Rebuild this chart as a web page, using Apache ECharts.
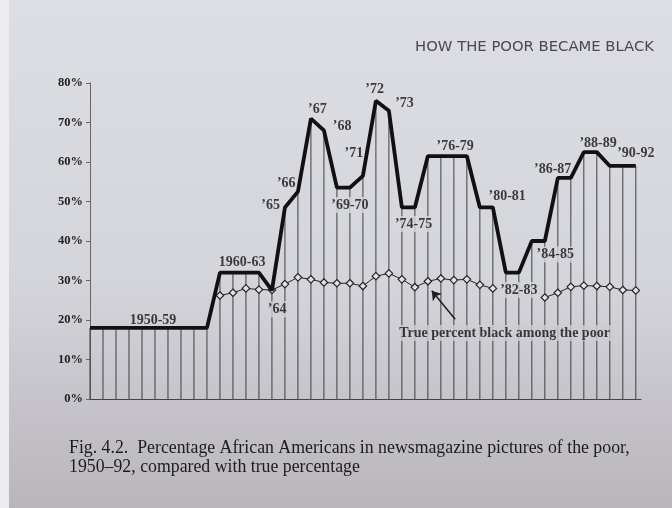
<!DOCTYPE html>
<html>
<head>
<meta charset="utf-8">
<script src="https://cdn.jsdelivr.net/npm/echarts@6/dist/echarts.min.js"></script>
<style>
  html, body { margin: 0; padding: 0; }
  #chart { width: 672px; height: 508px; }
</style>
</head>
<body>
<div id="chart"></div>
<script>
  // years on the x axis
  const years = [1950, 1951, 1952, 1953, 1954, 1955, 1956, 1957, 1958, 1959,
    1960, 1961, 1962, 1963, 1964, 1965, 1966, 1967, 1968, 1969, 1970,
    1971, 1972, 1973, 1974, 1975, 1976, 1977, 1978, 1979, 1980, 1981,
    1982, 1983, 1984, 1985, 1986, 1987, 1988, 1989, 1990, 1991, 1992]

  // % African Americans in newsmagazine pictures of the poor
  const magazine = [18, 18, 18, 18, 18, 18, 18, 18, 18, 18,
    32, 32, 32, 32, 27.5, 48.5, 52.5, 71, 68, 53.5, 53.5,
    56.5, 75.5, 73, 48.5, 48.5, 61.5, 61.5, 61.5, 61.5, 48.5, 48.5,
    32, 32, 40, 40, 56, 56, 62.5, 62.5, 59, 59, 59]

  // true % black among the poor
  const truePct = [null, null, null, null, null, null, null, null, null, null,
    26.2, 26.9, 28.0, 27.7, 27.6, 29.1, 30.8, 30.3, 29.5, 29.3, 29.3,
    28.6, 31.1, 31.8, 30.3, 28.3, 29.8, 30.5, 30.1, 30.3, 28.9, 28.0,
    null, null, null, 25.7, 26.9, 28.4, 28.7, 28.6, 28.4, 27.6, 27.5]

  // period labels and where they sit (year, percent)
  const labelText = ['1950-59', '1960-63', '\u201964', '\u201965', '\u201966', '\u201967',
    '\u201968', '\u201971', '\u201969-70', '\u201972', '\u201973', '\u201974-75', '\u201976-79',
    '\u201980-81', '\u201982-83', '\u201984-85', '\u201986-87', '\u201988-89', '\u201990-92',
    'True percent black among the poor']
  const labelYear = [1954.85, 1961.7, 1964.4, 1963.9, 1965.1, 1967.5,
    1969.4, 1970.3, 1970.0, 1971.9, 1974.2, 1974.9, 1978.1,
    1982.1, 1983.0, 1985.8, 1985.6, 1989.1, 1992.0, 1981.9]
  const labelPct = [20.0, 34.5, 22.7, 49.1, 54.6, 73.3,
    69.1, 62.2, 49.1, 78.5, 74.9, 44.3, 63.9,
    51.4, 27.6, 36.6, 58.1, 64.7, 62.2, 16.7]

  // arrow from the "True percent" note to the line
  const arrowFrom = [1978.1, 20.2]
  const arrowTo = [1976.3, 27.4]

  const serif = '"Liberation Serif", "DejaVu Serif", serif'

  // page tone of the photo, top to bottom
  const paper = [
    { offset: 0, color: [221, 222, 227] },
    { offset: 0.55, color: [212, 213, 219] },
    { offset: 1, color: [185, 181, 187] }
  ]
  function paperAt(t) {
    for (let i = 1; i < paper.length; i++) {
      if (t <= paper[i].offset) {
        const a = paper[i - 1], b = paper[i]
        const f = (t - a.offset) / (b.offset - a.offset)
        const c = a.color.map((v, k) => Math.round(v + (b.color[k] - v) * f))
        return 'rgb(' + c.join(',') + ')'
      }
    }
    return 'rgb(' + paper[paper.length - 1].color.join(',') + ')'
  }

  const chart = echarts.init(document.getElementById('chart'))
  const H = 508

  const option = {
    animation: false,
    backgroundColor: {
      type: 'linear', x: 0, y: 0, x2: 0, y2: 1,
      colorStops: paper.map(s => ({ offset: s.offset, color: 'rgb(' + s.color.join(',') + ')' }))
    },
    graphic: [
      { type: 'rect', left: 0, top: 0, shape: { width: 9, height: H }, style: { fill: '#ececef' } }
    ],
    title: [
      {
        text: 'HOW THE POOR BECAME BLACK',
        right: 13,
        top: 35,
        textStyle: { fontFamily: '"DejaVu Sans", sans-serif', fontSize: 14.8, fontWeight: 'normal', color: '#48484e' }
      },
      {
        text: 'Fig. 4.2.  Percentage African Americans in newsmagazine pictures of the poor,\n1950\u201392, compared with true percentage',
        left: 64,
        top: 434,
        textStyle: { fontFamily: serif, fontSize: 17.8, lineHeight: 19, fontWeight: 'normal', color: '#1c1c1c' }
      }
    ],
    grid: { left: 90, right: 31, top: 83, bottom: 109 },
    xAxis: {
      type: 'value',
      min: 1950,
      max: 1992.4,
      axisLine: { show: true, lineStyle: { color: '#444', width: 1 } },
      axisTick: { show: false },
      axisLabel: { show: false },
      splitLine: { show: false }
    },
    yAxis: {
      type: 'value',
      min: 0,
      max: 80,
      interval: 10,
      axisLine: { show: true, lineStyle: { color: '#666', width: 1 } },
      axisTick: { show: true, length: 4, lineStyle: { color: '#666' } },
      axisLabel: {
        formatter: '{value}%',
        fontFamily: serif,
        fontWeight: 'bold',
        fontSize: 12.5,
        color: '#222',
        margin: 7
      },
      splitLine: { show: false }
    },
    series: [
      {
        // thin drop lines under each year
        type: 'bar',
        silent: true,
        z: 1,
        barWidth: 1,
        itemStyle: { color: '#3f3f3f' },
        data: years.map((y, i) => [y, magazine[i]])
      },
      {
        type: 'scatter',
        silent: true,
        z: 2,
        symbolSize: 0,
        label: {
          show: true,
          position: 'inside',
          align: 'center',
          verticalAlign: 'middle',
          formatter: p => p.value[2],
          fontFamily: serif,
          fontWeight: 'bold',
          fontSize: 14,
          color: '#111',
          padding: [1, 1]
        },
        data: labelText.map((t, i) => ({
          value: [labelYear[i], labelPct[i], t],
          label: { backgroundColor: paperAt((83 + (80 - labelPct[i]) / 80 * 316) / H) }
        }))
      },
      {
        name: 'True percent',
        type: 'line',
        z: 3,
        connectNulls: false,
        symbol: 'diamond',
        symbolSize: 7.5,
        showAllSymbol: true,
        itemStyle: { color: '#e4e4e8', borderColor: '#252525', borderWidth: 1.2 },
        lineStyle: { color: '#252525', width: 1 },
        data: years.map((y, i) => [y, truePct[i]]),
        markLine: {
          silent: true,
          symbol: ['none', 'arrow'],
          symbolSize: 9,
          label: { show: false },
          lineStyle: { color: '#1e1e1e', width: 1.5, type: 'solid' },
          data: [[{ coord: arrowFrom }, { coord: arrowTo }]]
        }
      },
      {
        name: 'Newsmagazines',
        type: 'line',
        z: 4,
        symbol: 'none',
        lineStyle: { color: '#111', width: 3.8 },
        data: years.map((y, i) => [y, magazine[i]])
      }
    ]
  }

  chart.setOption(option)
</script>
</body>
</html>
